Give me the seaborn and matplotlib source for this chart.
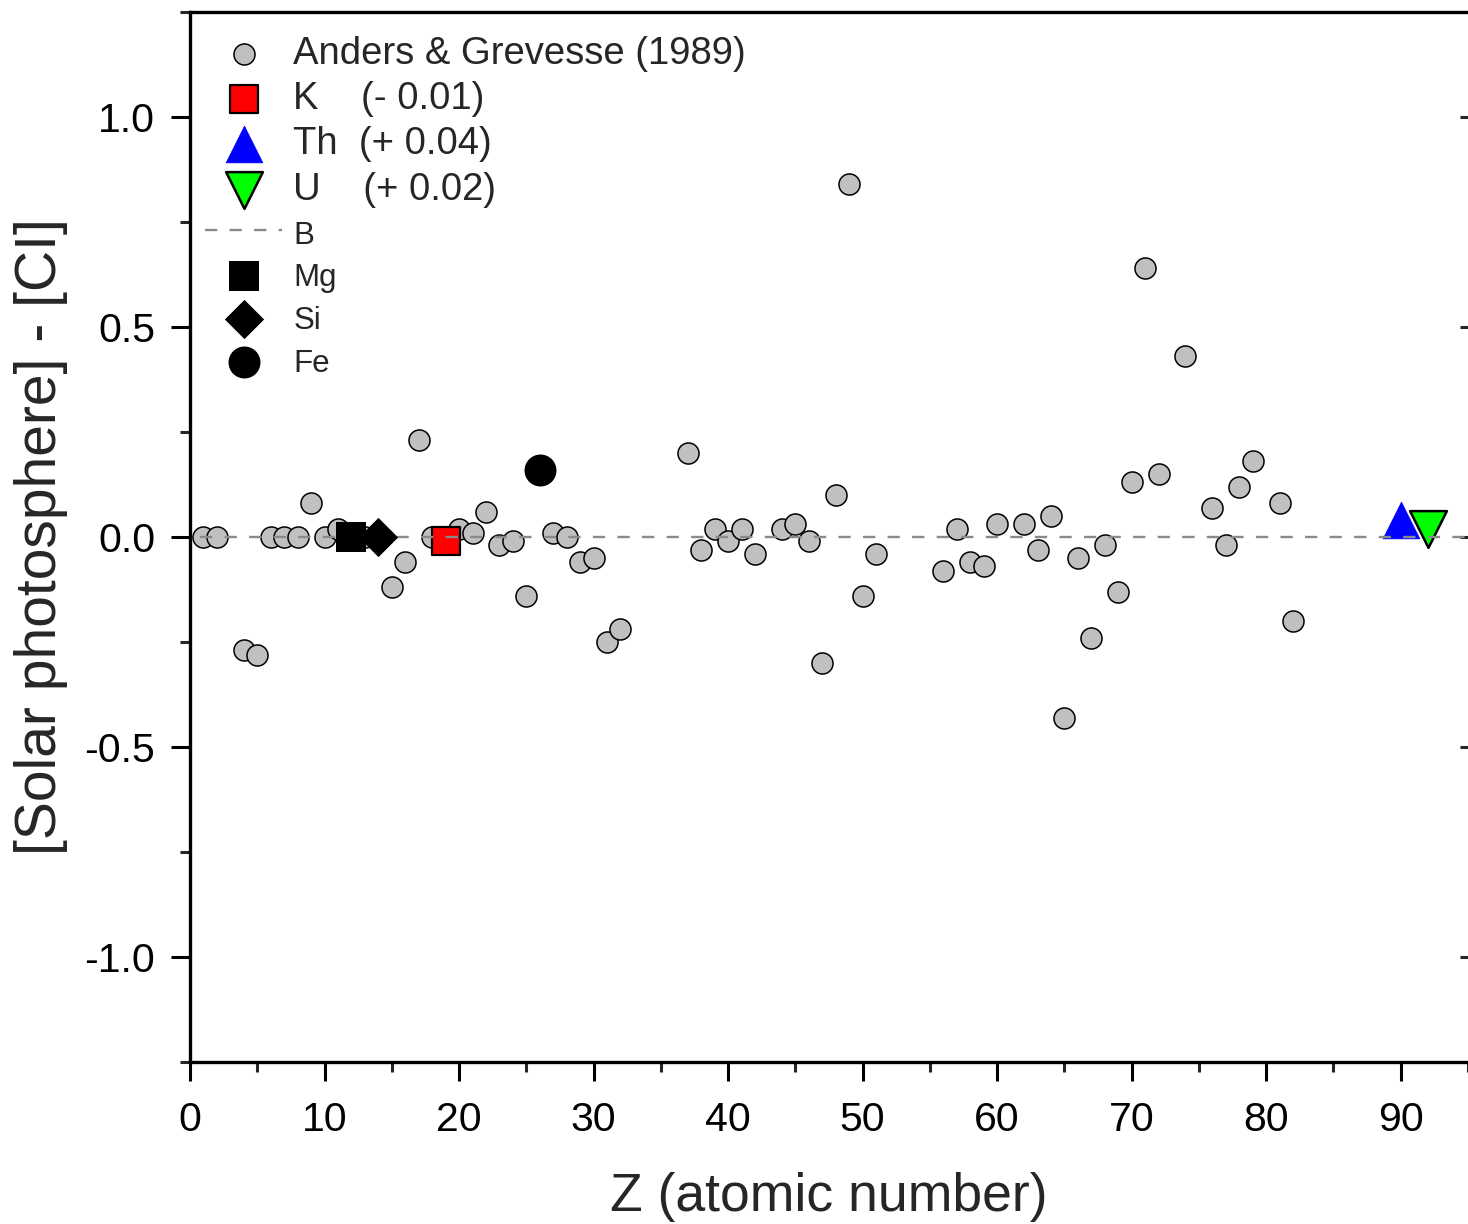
import matplotlib
matplotlib.use("Agg")
import matplotlib.pyplot as plt
from matplotlib.ticker import MultipleLocator, FormatStrFormatter
import seaborn as sns
import pandas as pd

# Anders & Grevesse (1989): photospheric minus CI abundance, by atomic number
ag_z = [1, 2, 4, 5, 6, 7, 8, 9, 10, 11, 13, 15, 16, 17, 18, 20, 21, 22, 23, 24,
        25, 27, 28, 29, 30, 31, 32, 37, 38, 39, 40, 41, 42, 44, 45, 46, 47, 48,
        49, 50, 51, 56, 57, 58, 59, 60, 62, 63, 64, 65, 66, 67, 68, 69, 70, 71,
        72, 74, 76, 77, 78, 79, 81, 82]
ag_diff = [0.00, 0.00, -0.27, -0.28, 0.00, 0.00, 0.00, 0.08, 0.00, 0.02, 0.00,
           -0.12, -0.06, 0.23, 0.00, 0.02, 0.01, 0.06, -0.02, -0.01, -0.14,
           0.01, 0.00, -0.06, -0.05, -0.25, -0.22, 0.20, -0.03, 0.02, -0.01,
           0.02, -0.04, 0.02, 0.03, -0.01, -0.30, 0.10, 0.84, -0.14, -0.04,
           -0.08, 0.02, -0.06, -0.07, 0.03, 0.03, -0.03, 0.05, -0.43, -0.05,
           -0.24, -0.02, -0.13, 0.13, 0.64, 0.15, 0.43, 0.07, -0.02, 0.12,
           0.18, 0.08, -0.20]

# Highlighted elements
k_z, k_diff = [19], [-0.01]
th_z, th_diff = [90], [0.04]
u_z, u_diff = [92], [0.02]
mg_z, mg_diff = [12], [0.00]
si_z, si_diff = [14], [0.00]
fe_z, fe_diff = [26], [0.16]
ref_z, ref_diff = [0.75, 95], [0.0, 0.0]

labels = ["Anders & Grevesse (1989)", "K    (- 0.01)", "Th  (+ 0.04)",
          "U    (+ 0.02)", "B", "Mg", "Si", "Fe"]

sns.set_style("ticks")
plt.rcParams["font.family"] = ["Liberation Sans", "DejaVu Sans"]
plt.rcParams["axes.unicode_minus"] = False

fig = plt.figure(figsize=(14.68, 12.24), dpi=100)
ax = fig.add_axes([190 / 1468, 162 / 1224, 1278 / 1468, 1050 / 1224])

def scatter(z, d, z_order, **kw):
    df = pd.DataFrame({"Z": z, "d": d})
    sns.scatterplot(data=df, x="Z", y="d", ax=ax, zorder=z_order, legend=False, **kw)
    return ax.collections[-1]

h_ag = scatter(ag_z, ag_diff, 3, marker="o", s=230, color="#c0c0c0",
               edgecolor="black", linewidth=1.1)
h_k = scatter(k_z, k_diff, 4, marker="s", s=400, color="#ff0000",
              edgecolor="black", linewidth=1.6)
h_th = scatter(th_z, th_diff, 5, marker="^", s=700, color="#0000ff",
               edgecolor="#0000ff", linewidth=0.5)
h_u = scatter(u_z, u_diff, 6, marker="v", s=700, color="#00ff00",
              edgecolor="black", linewidth=1.8)
h_b, = ax.plot(ref_z, ref_diff, color="#8a8a8a", lw=1.7, dashes=(5.2, 5.2), zorder=7)
h_mg = scatter(mg_z, mg_diff, 8, marker="s", s=460, color="black",
               edgecolor="black", linewidth=0)
h_si = scatter(si_z, si_diff, 9, marker="D", s=400, color="black",
               edgecolor="black", linewidth=0)
h_fe = scatter(fe_z, fe_diff, 10, marker="o", s=530, color="black",
               edgecolor="black", linewidth=0)

ax.set_xlim(0, 95)
ax.set_ylim(-1.25, 1.25)
ax.xaxis.set_major_locator(MultipleLocator(10))
ax.xaxis.set_minor_locator(MultipleLocator(5))
ax.yaxis.set_major_locator(MultipleLocator(0.5))
ax.yaxis.set_minor_locator(MultipleLocator(0.25))
ax.yaxis.set_major_formatter(FormatStrFormatter("%.1f"))

for side in ["left", "bottom", "top"]:
    ax.spines[side].set_linewidth(2.4)
    ax.spines[side].set_color("black")
ax.spines["right"].set_visible(False)

ax.tick_params(which="major", direction="out", length=14, width=2.2,
               labelsize=29.5, colors="black", top=False, right=False)
ax.tick_params(which="minor", direction="out", length=7, width=2.2,
               top=False, right=False)
ax.tick_params(axis="y", which="major", pad=11)
ax.tick_params(axis="x", which="major", pad=14)

sec = ax.secondary_yaxis("right")
sec.yaxis.set_major_locator(MultipleLocator(0.5))
sec.tick_params(direction="in", length=6, width=2.2, labelright=False)
sec.spines["right"].set_visible(False)

ax.set_xlabel("Z (atomic number)", fontsize=38.5, labelpad=24)
ax.set_ylabel("[Solar photosphere] - [CI]", fontsize=41, labelpad=12)

leg = ax.legend([h_ag, h_k, h_th, h_u, h_b, h_mg, h_si, h_fe], labels,
                loc="upper left", bbox_to_anchor=(0.012, 0.977),
                frameon=False, fontsize=27.5, borderpad=0, borderaxespad=0,
                handlelength=2.0, handletextpad=0.3, labelspacing=0.24,
                scatterpoints=1)
for t in leg.get_texts()[4:]:
    t.set_fontsize(22.5)

fig.savefig("out.png", dpi=100)
